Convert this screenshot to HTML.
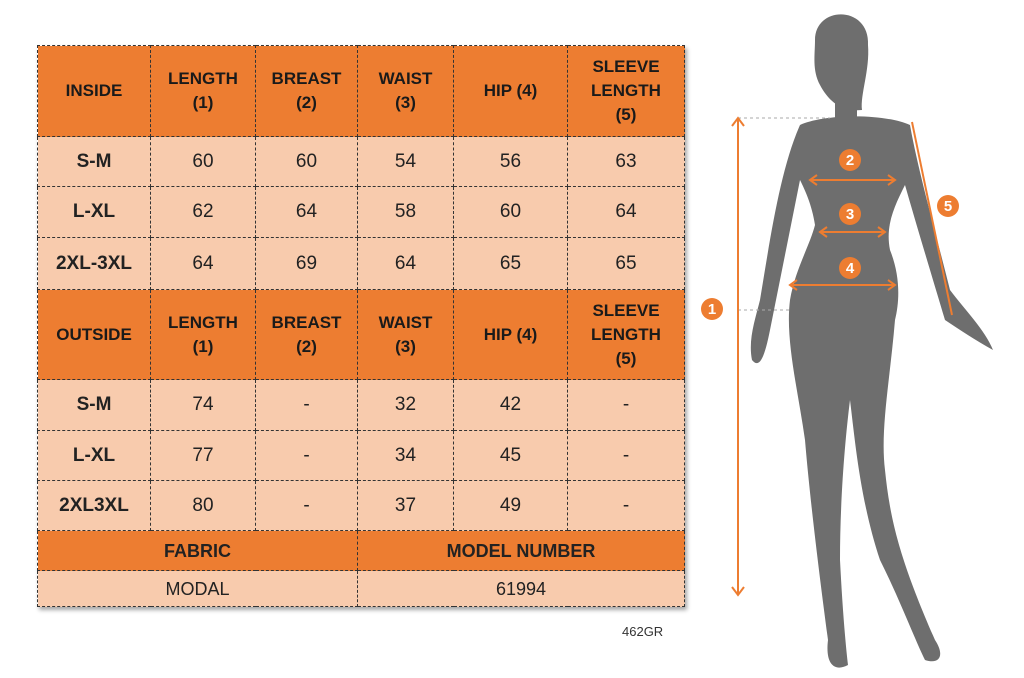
<!DOCTYPE html>
<html><head><meta charset="utf-8"><style>
body{margin:0;width:1024px;height:678px;background:#fff;position:relative;overflow:hidden;font-family:"Liberation Sans",sans-serif}
table{position:absolute;left:37px;top:45px;border-collapse:collapse;box-shadow:2px 3px 4px rgba(0,0,0,.35)}
td{border:1.5px dashed #333;text-align:center;font-size:19px;color:#222;padding:0;line-height:24px}
.h td{background:#ED7D31;font-weight:bold;font-size:17px;color:#1a1a1a}
.r td{background:#F8CBAD}
.r td:first-child{font-weight:bold}
.f td{background:#ED7D31;font-weight:bold;font-size:18px;height:39px}
.m td{background:#F8CBAD;height:35px;font-size:18px}
</style></head><body>
<table>
<colgroup><col style="width:113px"><col style="width:105px"><col style="width:102px"><col style="width:96px"><col style="width:114px"><col style="width:117px"></colgroup>
<tr class="h" style="height:91px"><td>INSIDE</td><td>LENGTH<br>(1)</td><td>BREAST<br>(2)</td><td>WAIST<br>(3)</td><td>HIP (4)</td><td>SLEEVE<br>LENGTH<br>(5)</td></tr>
<tr class="r" style="height:50px"><td>S-M</td><td>60</td><td>60</td><td>54</td><td>56</td><td>63</td></tr>
<tr class="r" style="height:51px"><td>L-XL</td><td>62</td><td>64</td><td>58</td><td>60</td><td>64</td></tr>
<tr class="r" style="height:52px"><td>2XL-3XL</td><td>64</td><td>69</td><td>64</td><td>65</td><td>65</td></tr>
<tr class="h" style="height:90px"><td>OUTSIDE</td><td>LENGTH<br>(1)</td><td>BREAST<br>(2)</td><td>WAIST<br>(3)</td><td>HIP (4)</td><td>SLEEVE<br>LENGTH<br>(5)</td></tr>
<tr class="r" style="height:51px"><td>S-M</td><td>74</td><td>-</td><td>32</td><td>42</td><td>-</td></tr>
<tr class="r" style="height:50px"><td>L-XL</td><td>77</td><td>-</td><td>34</td><td>45</td><td>-</td></tr>
<tr class="r" style="height:50px"><td>2XL3XL</td><td>80</td><td>-</td><td>37</td><td>49</td><td>-</td></tr>
<tr class="f"><td colspan="3">FABRIC</td><td colspan="3">MODEL NUMBER</td></tr>
<tr class="m"><td colspan="3">MODAL</td><td colspan="3">61994</td></tr>
</table>
<div style="position:absolute;left:622px;top:624px;font-size:13px;color:#333">462GR</div>
<svg width="1024" height="678" style="position:absolute;left:0;top:0">
<g fill="#6e6e6e">
<path d="M815,40 C815,5 870,5 868,45 C870,70 860,95 862,110 C840,112 828,100 820,85 C812,70 815,55 815,40Z"/>
<rect x="835" y="80" width="22" height="40"/>
<path d="M800,125 C820,115 880,112 910,125 C918,170 935,230 950,290 C965,310 985,330 993,350 C975,340 960,330 945,320 C930,270 915,220 905,185 C895,205 885,225 890,250 C900,275 900,300 895,320 C890,380 880,430 885,470 C890,520 900,560 935,640 C945,655 940,665 925,660 C915,640 900,600 880,560 C860,500 855,440 850,400 C845,440 840,500 840,560 C842,600 845,640 848,665 C835,672 825,665 828,640 C820,580 810,500 805,440 C798,390 785,340 790,300 C795,270 810,245 815,225 C812,205 805,190 800,180 C790,230 780,280 770,330 C765,355 760,370 752,360 C748,340 755,320 760,300 C770,240 780,170 800,125Z"/>
</g>
<g stroke="#aaa" stroke-dasharray="3,3" stroke-width="1"><line x1="738" y1="118" x2="830" y2="118"/><line x1="738" y1="310" x2="790" y2="310"/></g>
<g stroke="#ED7D31" stroke-width="2" fill="none">
<line x1="738" y1="118" x2="738" y2="595"/><path d="M732,126 L738,118 L744,126 M732,587 L738,595 L744,587"/>
<line x1="810" y1="180" x2="895" y2="180"/><path d="M817,175 L810,180 L817,185 M888,175 L895,180 L888,185"/>
<line x1="820" y1="232" x2="885" y2="232"/><path d="M827,227 L820,232 L827,237 M878,227 L885,232 L878,237"/>
<line x1="790" y1="285" x2="895" y2="285"/><path d="M797,280 L790,285 L797,290 M888,280 L895,285 L888,290"/>
<line x1="912" y1="122" x2="952" y2="315"/>
</g>
<g fill="#ED7D31"><circle cx="712" cy="309" r="11"/><circle cx="850" cy="160" r="11"/><circle cx="850" cy="214" r="11"/><circle cx="850" cy="268" r="11"/><circle cx="948" cy="206" r="11"/></g>
<g fill="#fff" font-size="15" font-weight="bold" text-anchor="middle" font-family="Liberation Sans,sans-serif">
<text x="712" y="314">1</text><text x="850" y="165">2</text><text x="850" y="219">3</text><text x="850" y="273">4</text><text x="948" y="211">5</text></g>
</svg>
</body></html>
